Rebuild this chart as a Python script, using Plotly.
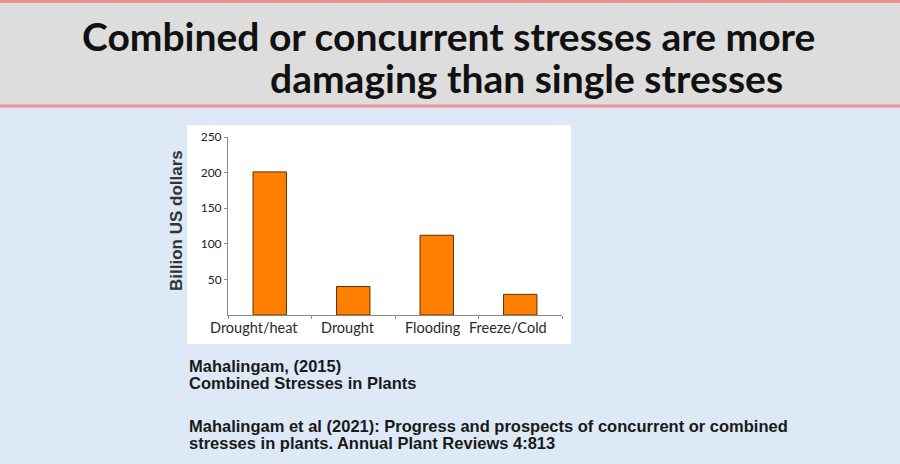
import plotly.graph_objects as go

categories = ["Drought/heat", "Drought", "Flooding", "Freeze/Cold"]
values = [201, 40, 112, 29]
y_ticks = [50, 100, 150, 200, 250]
y_title = "Billion US dollars"
title_lines = ["Combined or concurrent stresses are more", "damaging than single stresses"]
refs = [
    "Mahalingam, (2015)",
    "Combined Stresses in Plants",
    "Mahalingam et al (2021): Progress and prospects of concurrent or combined",
    "stresses in plants. Annual Plant Reviews 4:813",
]

W, H = 900, 464
L, R, T, B = 228, 338, 137, 149


def fx(p):
    return (p - L) / (W - L - R)


def fy(p):
    return (H - B - p) / (H - T - B)


fig = go.Figure(
    go.Bar(
        x=categories,
        y=values,
        width=0.4,
        marker=dict(color="#ff8000", line=dict(color="#5a3000", width=1)),
    )
)

shapes = [
    dict(type="rect", xref="paper", yref="paper", x0=fx(0), x1=fx(W), y0=fy(105), y1=fy(2),
         fillcolor="#dddddd", line=dict(width=0), layer="below"),
    dict(type="rect", xref="paper", yref="paper", x0=fx(0), x1=fx(W), y0=fy(3), y1=fy(0),
         fillcolor="#f29090", line=dict(width=0), layer="below"),
    dict(type="rect", xref="paper", yref="paper", x0=fx(0), x1=fx(W), y0=fy(107.5), y1=fy(104.5),
         fillcolor="#f29090", line=dict(width=0), layer="below"),
    dict(type="rect", xref="paper", yref="paper", x0=fx(187), x1=fx(571), y0=fy(344), y1=fy(125),
         fillcolor="#ffffff", line=dict(width=0), layer="below"),
]

annotations = [
    dict(text=title_lines[0], x=fx(80), y=fy(36), xanchor="left", yanchor="middle",
         xref="paper", yref="paper",
         font=dict(family="Lato", size=39, color="#111111", weight="bold")),
    dict(text=title_lines[1], x=fx(268), y=fy(78), xanchor="left", yanchor="middle",
         xref="paper", yref="paper",
         font=dict(family="Lato", size=39, color="#111111", weight="bold")),
    dict(text="<b>" + y_title + "</b>", x=fx(176), y=fy(221), textangle=-90,
         xanchor="center", yanchor="middle", xref="paper", yref="paper",
         font=dict(family="Liberation Sans", size=17, color="#333333")),
]
ref_y = [365.5, 382.5, 425.5, 442.5]
for t, yy in zip(refs, ref_y):
    annotations.append(dict(text="<b>" + t + "</b>", x=fx(187), y=fy(yy), xanchor="left",
                            yanchor="middle", xref="paper", yref="paper",
                            font=dict(family="Liberation Sans", size=16.5, color="#1a1a1a")))

# category labels (offset slightly left of the bars, as in the reference)
label_shift = [-16, -5, -4, -12]
for c, s in zip(categories, label_shift):
    annotations.append(dict(text=c, x=c, y=fy(327), xref="x", yref="paper",
                            xanchor="center", yanchor="middle", xshift=s,
                            font=dict(family="Lato", size=14.5, color="#2a2a2a")))
for a in annotations:
    a.update(showarrow=False)

fig.update_layout(
    width=W, height=H,
    margin=dict(l=L, r=R, t=T, b=B, pad=0),
    paper_bgcolor="#dde9f6",
    plot_bgcolor="rgba(0,0,0,0)",
    shapes=shapes,
    annotations=annotations,
    showlegend=False,
    bargap=0.6,
)
fig.update_xaxes(
    range=[-0.5, 3.5], showline=True, linecolor="#8a8a8a", linewidth=1,
    ticks="outside", tickson="boundaries", ticklen=3, tickcolor="#8a8a8a",
    showticklabels=False, showgrid=False,
)
fig.update_yaxes(
    range=[0, 250], showline=True, linecolor="#8a8a8a", linewidth=1,
    ticks="outside", ticklen=3, tickcolor="#8a8a8a", tickvals=y_ticks,
    showgrid=False, zeroline=False,
    tickfont=dict(family="Lato", size=12, color="#222222"),
)

fig.write_html("out.html", post_script="document.body.style.margin='0';",
               config={"displayModeBar": False})
